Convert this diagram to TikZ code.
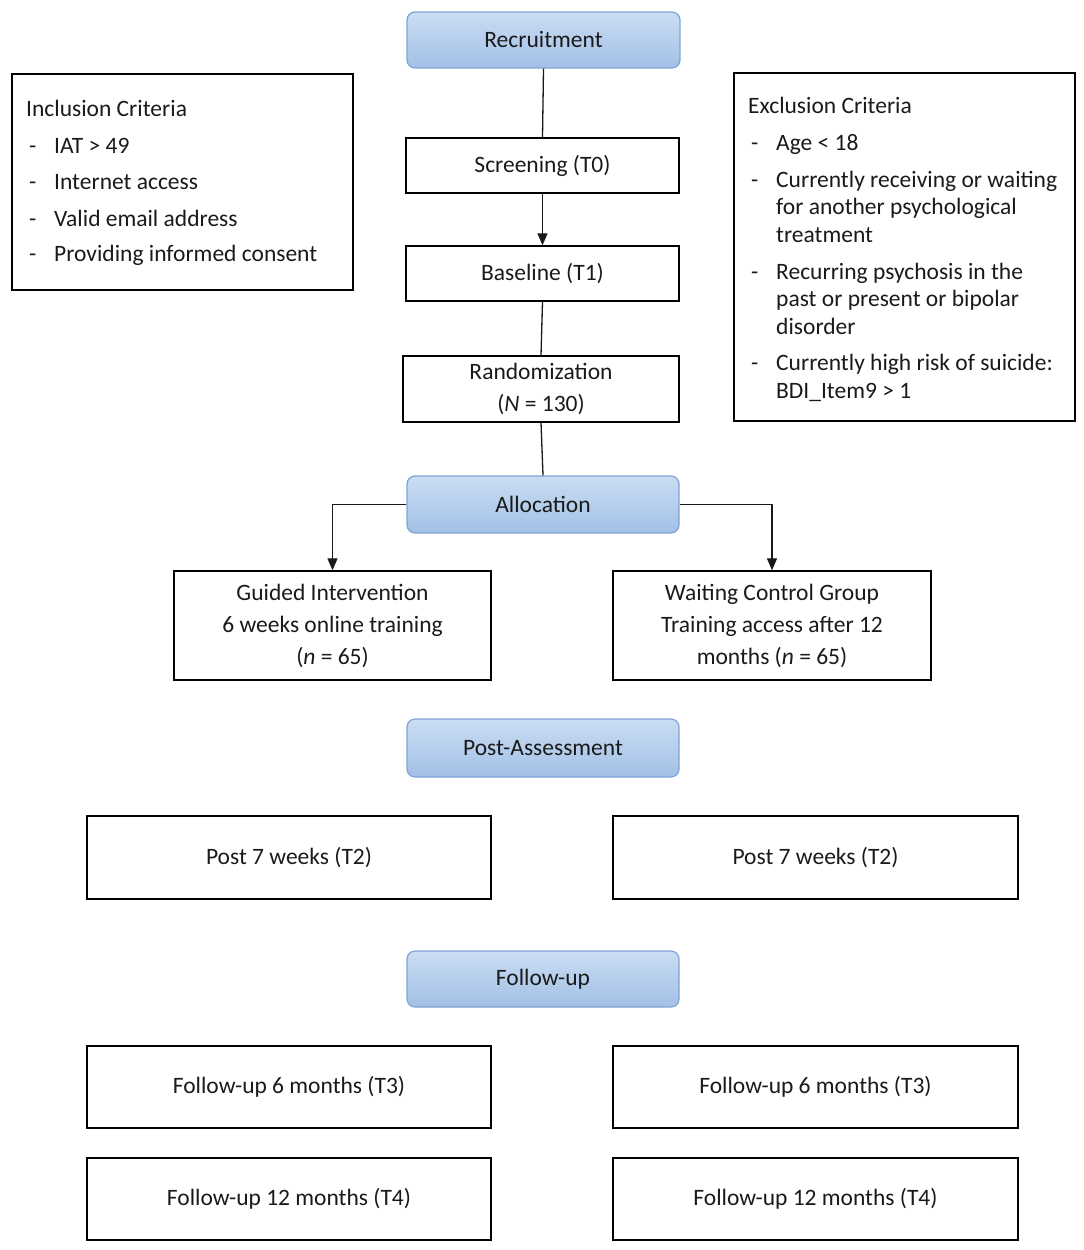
\documentclass[tikz,border=0pt]{standalone}
\usepackage{fontspec}
\setmainfont{Carlito}
\usetikzlibrary{arrows.meta}
\definecolor{phtop}{HTML}{CADDF3}
\definecolor{phbot}{HTML}{A2C0E6}
\definecolor{phline}{HTML}{7EA4D4}
\definecolor{txt}{HTML}{1A1A1A}
\begin{document}
\begin{tikzpicture}[x=1pt,y=-1pt,
  every node/.style={text=txt},
  mainfont/.style={font=\fontsize{23.5}{32}\selectfont},
  phase/.style={mainfont,draw=phline,line width=1.2pt,rounded corners=8pt,top color=phtop,bottom color=phbot,inner sep=0pt},
  stepbox/.style={mainfont,draw=black,line width=1.4pt,inner sep=0pt,align=center},
  crit/.style={draw=black,line width=1.4pt,inner sep=0pt},
  ctext/.style={mainfont,anchor=base west,inner sep=0pt},
  conn/.style={line width=1.3pt,draw=black!90},
  arr/.style={conn,-{Triangle[length=12pt,width=10pt]}}]
\useasboundingbox (0,0) rectangle (1084,1250);
% phases and steps
\node[phase,minimum width=273pt,minimum height=56pt] (rec) at (543.5,40) {Recruitment};
\node[stepbox,minimum width=273pt,minimum height=55pt] (scr) at (542.5,165.5) {Screening (T0)};
\node[stepbox,minimum width=273pt,minimum height=55pt] (base) at (542.5,273.5) {Baseline (T1)};
\node[stepbox,minimum width=276pt,minimum height=66pt] (rand) at (541,389) {Randomization\\(\textit{N} = 130)};
\node[phase,minimum width=272pt,minimum height=57pt] (alloc) at (543,504.5) {Allocation};
\node[stepbox,minimum width=317pt,minimum height=109pt] (gi) at (332.5,625.5) {Guided Intervention\\6 weeks online training\\(\textit{n} = 65)};
\node[stepbox,minimum width=318pt,minimum height=109pt] (wc) at (772,625.5) {Waiting Control Group\\Training access after 12\\months (\textit{n} = 65)};
\node[phase,minimum width=272pt,minimum height=58pt] (post) at (543,748) {Post-Assessment};
\node[stepbox,minimum width=404pt,minimum height=83pt] (p1) at (289,857.5) {Post 7 weeks (T2)};
\node[stepbox,minimum width=405pt,minimum height=83pt] (p2) at (815.5,857.5) {Post 7 weeks (T2)};
\node[phase,minimum width=272pt,minimum height=56pt] (fu) at (543,979) {Follow-up};
\node[stepbox,minimum width=404pt,minimum height=82pt] (fa1) at (289,1087) {Follow-up 6 months (T3)};
\node[stepbox,minimum width=405pt,minimum height=82pt] (fa2) at (815.5,1087) {Follow-up 6 months (T3)};
\node[stepbox,minimum width=404pt,minimum height=82pt] (fb1) at (289,1199) {Follow-up 12 months (T4)};
\node[stepbox,minimum width=405pt,minimum height=82pt] (fb2) at (815.5,1199) {Follow-up 12 months (T4)};
% connectors
\draw[conn] (rec.south) -- (scr.north);
\draw[arr] (scr.south) -- (base.north);
\draw[conn] (base.south) -- (rand.north);
\draw[conn] (rand.south) -- (alloc.north);
\draw[arr] (alloc.west) -| (gi.north);
\draw[arr] (alloc.east) -| (wc.north);
% inclusion criteria
\node[crit,minimum width=341pt,minimum height=216pt] (incl) at (182.5,182) {};
\node[ctext] (i0) at (26,116) {Inclusion Criteria};
\node[ctext] (i1d) at (29,153) {-};
\node[ctext] (i1) at (54,153) {IAT > 49};
\node[ctext] (i2d) at (29,189) {-};
\node[ctext] (i2) at (54,189) {Internet access};
\node[ctext] (i3d) at (29,226) {-};
\node[ctext] (i3) at (54,226) {Valid email address};
\node[ctext] (i4d) at (29,261) {-};
\node[ctext] (i4) at (54,261) {Providing informed consent};
% exclusion criteria
\node[crit,minimum width=341pt,minimum height=348pt] (excl) at (904.5,247) {};
\node[ctext] (e0) at (748,113) {Exclusion Criteria};
\node[ctext] (e1d) at (751,150) {-};
\node[ctext] (e1) at (776,150) {Age < 18};
\node[ctext] (e2d) at (751,187) {-};
\node[ctext] (e2a) at (776,187) {Currently receiving or waiting};
\node[ctext] (e2b) at (776,214) {for another psychological};
\node[ctext] (e2c) at (776,242) {treatment};
\node[ctext] (e3d) at (751,279) {-};
\node[ctext] (e3a) at (776,279) {Recurring psychosis in the};
\node[ctext] (e3b) at (776,306) {past or present or bipolar};
\node[ctext] (e3c) at (776,334) {disorder};
\node[ctext] (e4d) at (751,370) {-};
\node[ctext] (e4a) at (776,370) {Currently high risk of suicide:};
\node[ctext] (e4b) at (776,398) {BDI\_Item9 > 1};
\end{tikzpicture}
\end{document}
